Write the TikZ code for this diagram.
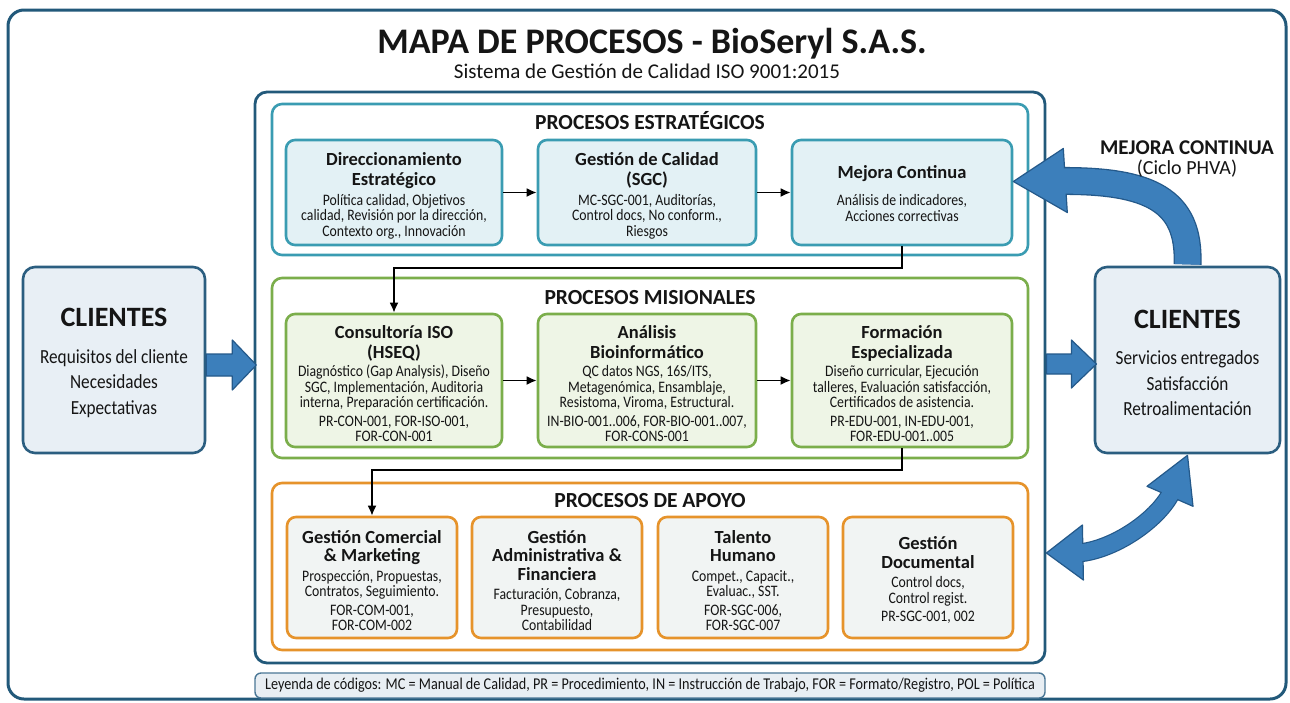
\documentclass[tikz,border=0pt]{standalone}
\usepackage{fontspec}
\setmainfont{Carlito}
\newfontfamily\bodyf{Carlito}[FakeStretch=0.86]
\usetikzlibrary{arrows.meta,calc}
\definecolor{framec}{HTML}{22597A}
\definecolor{tealc}{HTML}{3A9CB2}
\definecolor{tealf}{HTML}{E3F1F5}
\definecolor{greenc}{HTML}{7BAE4B}
\definecolor{greenf}{HTML}{EEF5E6}
\definecolor{orangec}{HTML}{E6932B}
\definecolor{orangef}{HTML}{F1F4F3}
\definecolor{clif}{HTML}{E8EFF5}
\definecolor{clid}{HTML}{2B5E80}
\definecolor{arrowc}{HTML}{3C7FBB}
\definecolor{arrowd}{HTML}{24598A}
\definecolor{legf}{HTML}{E8EEF3}
\definecolor{legd}{HTML}{4A7796}
\definecolor{txt}{HTML}{151515}
\lineskiplimit=-100pt
\newcommand\bt[1]{{\rmfamily\fontsize{18.5}{20}\selectfont\bfseries #1}}
\begin{document}
\begin{tikzpicture}[x=1pt,y=-1pt,
  every node/.append style={text=txt},
  outerframe/.style={draw=framec, line width=3pt, rounded corners=16pt, fill=white},
  mainframe/.style={draw=framec, line width=2.8pt, rounded corners=12pt, fill=white, minimum width=790pt, minimum height=571pt, inner sep=0pt},
  secframe/.style={line width=2.6pt, rounded corners=10pt, fill=white, minimum width=756pt, inner sep=0pt},
  pbox/.style={line width=2.6pt, rounded corners=9pt, inner sep=0pt},
  sbox/.style={pbox, draw=tealc, fill=tealf, minimum height=105pt},
  mbox/.style={pbox, draw=greenc, fill=greenf, minimum height=133pt},
  abox/.style={pbox, draw=orangec, fill=orangef, minimum height=121pt, minimum width=170pt},
  btext/.style={align=center, inner sep=0pt, font=\bodyf\fontsize{16}{15.5}\selectfont},
  sectitle/.style={font=\fontsize{21.5}{24}\selectfont\bfseries, inner sep=0pt, anchor=base},
  cli/.style={draw=clid, fill=clif, line width=2.6pt, rounded corners=12pt, minimum height=186pt, inner sep=0pt},
  clitext/.style={align=center, inner sep=0pt, font=\bodyf\fontsize{20}{25.5}\selectfont},
  conn/.style={draw=black, line width=1.8pt, -{Latex[length=10pt,width=9pt]}},
  fatarrow/.style={fill=arrowc, draw=arrowd, line width=1.2pt, line join=round},
  legend/.style={draw=legd, fill=legf, line width=1.4pt, rounded corners=6pt, minimum width=790pt, minimum height=25pt, inner sep=0pt, font=\bodyf\fontsize{16.5}{16}\selectfont}
]
\useasboundingbox (0,0) rectangle (1290,702);
\fill[white] (0,0) rectangle (1290,702);
\draw[outerframe] (8,10) rectangle (1286,699);

% titles
\node[font=\fontsize{36}{40}\selectfont\bfseries, inner sep=0pt, anchor=base] (title) at (652,53) {MAPA DE PROCESOS - BioSeryl S.A.S.};
\node[font=\fontsize{21}{24}\selectfont, inner sep=0pt, anchor=base] (subtitle) at (647,78) {Sistema de Gestión de Calidad ISO 9001:2015};

% frames
\node[mainframe] (main) at (650,377.5) {};
\node[secframe, draw=tealc, minimum height=151pt] (est) at (650,179.5) {};
\node[secframe, draw=greenc, minimum height=180pt] (mis) at (650,368) {};
\node[secframe, draw=orangec, minimum height=167pt] (apo) at (650,566.5) {};
\node[sectitle] (estt) at (650,129) {PROCESOS ESTRATÉGICOS};
\node[sectitle] (mist) at (650,304) {PROCESOS MISIONALES};
\node[sectitle] (apot) at (650,507) {PROCESOS DE APOYO};

% boxes
\node[sbox, minimum width=216pt] (s1) at (394,192.5) {};
\node[sbox, minimum width=218pt] (s2) at (647,192.5) {};
\node[sbox, minimum width=220pt] (s3) at (902,192.5) {};
\node[mbox, minimum width=216pt] (m1) at (394,380.5) {};
\node[mbox, minimum width=218pt] (m2) at (647,380.5) {};
\node[mbox, minimum width=220pt] (m3) at (902,380.5) {};
\node[abox] (a1) at (372,577.5) {};
\node[abox] (a2) at (557,577.5) {};
\node[abox] (a3) at (743,577.5) {};
\node[abox] (a4) at (928,577.5) {};

\node[btext] (s1t) at ([yshift=-3pt]s1.center) {\bt{Direccionamiento}\\[4.5pt]\bt{Estratégico}\\[4.5pt]Política calidad, Objetivos\\calidad, Revisión por la dirección,\\Contexto org., Innovación};
\node[btext] (s2t) at ([yshift=-3pt]s2.center) {\bt{Gestión de Calidad}\\[4.5pt]\bt{(SGC)}\\[4.5pt]MC-SGC-001, Auditorías,\\Control docs, No conform.,\\Riesgos};
\node[btext] (s3t) at ([yshift=-1pt]s3.center) {\bt{Mejora Continua}\\[12pt]Análisis de indicadores,\\Acciones correctivas};

\node[btext] (m1t) at ([yshift=-3pt]m1.center) {\bt{Consultoría ISO}\\[4.5pt]\bt{(HSEQ)}\\[3pt]Diagnóstico (Gap Analysis), Diseño\\SGC, Implementación, Auditoria\\interna, Preparación certificación.\\[3pt]PR-CON-001, FOR-ISO-001,\\FOR-CON-001};
\node[btext] (m2t) at ([yshift=-3pt]m2.center) {\bt{Análisis}\\[4.5pt]\bt{Bioinformático}\\[3pt]QC datos NGS, 16S/ITS,\\Metagenómica, Ensamblaje,\\Resistoma, Viroma, Estructural.\\[3pt]IN-BIO-001..006, FOR-BIO-001..007,\\FOR-CONS-001};
\node[btext] (m3t) at ([yshift=-3pt]m3.center) {\bt{Formación}\\[4.5pt]\bt{Especializada}\\[3pt]Diseño curricular, Ejecución\\talleres, Evaluación satisfacción,\\Certificados de asistencia.\\[3pt]PR-EDU-001, IN-EDU-001,\\FOR-EDU-001..005};

\node[btext] (a1t) at ([yshift=-3pt]a1.center) {\bt{Gestión Comercial}\\[3pt]\bt{\& Marketing}\\[4pt]Prospección, Propuestas,\\Contratos, Seguimiento.\\[3pt]FOR-COM-001,\\FOR-COM-002};
\node[btext] (a2t) at ([yshift=-3pt]a2.center) {\bt{Gestión}\\[3pt]\bt{Administrativa \&}\\[3pt]\bt{Financiera}\\[4pt]Facturación, Cobranza,\\Presupuesto,\\Contabilidad};
\node[btext] (a3t) at ([yshift=-3pt]a3.center) {\bt{Talento}\\[3pt]\bt{Humano}\\[4pt]Compet., Capacit.,\\Evaluac., SST.\\[3pt]FOR-SGC-006,\\FOR-SGC-007};
\node[btext] (a4t) at ([yshift=-3pt]a4.center) {\bt{Gestión}\\[3pt]\bt{Documental}\\[4pt]Control docs,\\Control regist.\\[3pt]PR-SGC-001, 002};

% connectors
\draw[conn] (s1.east) -- (s2.west);
\draw[conn] (s2.east) -- (s3.west);
\draw[conn] (m1.east) -- (m2.west);
\draw[conn] (m2.east) -- (m3.west);
\draw[conn] (s3.south) -- (s3.south |- 0,268) -- (m1.north |- 0,268) -- (m1.north);
\draw[conn] (m3.south) -- (m3.south |- 0,470) -- (a1.north |- 0,470) -- (a1.north);

% clients
\node[cli, minimum width=182pt] (cl) at (114,360) {};
\node[cli, minimum width=185pt] (cr) at (1187.5,360) {};
\node[clitext] (clt) at ([yshift=-3pt]cl.center) {{\rmfamily\fontsize{28}{30}\selectfont\bfseries CLIENTES}\\[11pt]Requisitos del cliente\\Necesidades\\Expectativas};
\node[clitext] (crt) at ([yshift=-3pt]cr.center) {{\rmfamily\fontsize{28}{30}\selectfont\bfseries CLIENTES}\\[11pt]Servicios entregados\\Satisfacción\\Retroalimentación};

% fat straight arrows
\draw[fatarrow] ([yshift=-5pt]cl.east) ++(0,-11) -- ++(26,0) -- ++(0,-14) -- ++(24,25) -- ++(-24,25) -- ++(0,-14) -- ++(-26,0) -- cycle;
\draw[fatarrow] ([yshift=13.5pt]main.east) ++(0,-10) -- ++(25,0) -- ++(0,-14) -- ++(25,24) -- ++(-25,24) -- ++(0,-14) -- ++(-25,0) -- cycle;

% mejora continua curved arrow
\coordinate (mtip) at ([yshift=11pt]s3.east);
\coordinate (mstart) at ([yshift=1.3pt]cr.north);
\draw[line width=28pt, arrowd] (mstart) .. controls (1190,200) and (1150,180) .. (1058,181);
\draw[fatarrow] (mtip) -- ++(50,-33) -- ++(4,64) -- cycle;
\draw[line width=25.4pt, arrowc] (mstart) .. controls (1190,200) and (1150,180) .. (1058,181);
\node[font=\fontsize{21}{24}\selectfont\bfseries, inner sep=0pt, anchor=base] (mct) at (1187,154) {MEJORA CONTINUA};
\node[font=\fontsize{20}{24}\selectfont, inner sep=0pt, anchor=base] (mcs) at (1187,174) {(Ciclo PHVA)};

% double curved arrow
\coordinate (dt1) at ([yshift=-1pt]cr.south);
\coordinate (dt2) at (main.east |- 0,553);
\draw[line width=19pt, arrowd] (1078,553) .. controls (1115,550) and (1160,518) .. (1172,491);
\draw[fatarrow] (dt2) -- ++(36,-28) -- ++(1,55) -- cycle;
\draw[fatarrow] (dt1) -- ++(-40.5,31) -- ++(46,20) -- cycle;
\draw[line width=16.6pt, arrowc] (1078,553) .. controls (1115,550) and (1160,518) .. (1172,491);

% legend
\node[legend] (leg) at (650,685.5) {Leyenda de códigos: MC = Manual de Calidad, PR = Procedimiento, IN = Instrucción de Trabajo, FOR = Formato/Registro, POL = Política};
\end{tikzpicture}
\end{document}
